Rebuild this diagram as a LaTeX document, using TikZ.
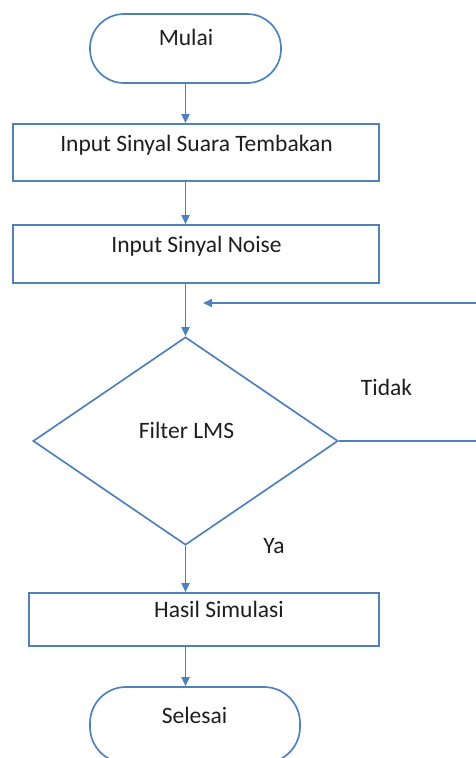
\documentclass[tikz,border=0pt]{standalone}
\usepackage{fontspec}
\setmainfont{Carlito}
\usetikzlibrary{shapes.geometric,arrows.meta}
\definecolor{lineblue}{RGB}{79,129,189}
\definecolor{txtgray}{RGB}{30,30,30}
\begin{document}
\begin{tikzpicture}[x=1pt,y=-1pt,
  shapeline/.style={draw=lineblue,line width=1.7pt},
  termbox/.style={shapeline,rectangle,rounded corners=34pt,inner sep=0pt},
  procbox/.style={shapeline,rectangle,inner sep=0pt},
  decbox/.style={shapeline,diamond,inner sep=0pt},
  lbl/.style={anchor=base,inner sep=0pt,text=txtgray,font=\fontsize{23.5}{28}\selectfont},
  conn/.style={draw=lineblue,line width=1.7pt,-{Triangle[length=9pt,width=8pt]}},
  plain/.style={draw=lineblue,line width=1.7pt}
]
\useasboundingbox (0,0) rectangle (476,758);
% shapes
\node[termbox,minimum width=191pt,minimum height=69pt] (mulai) at (185.5,48.5) {};
\node[procbox,minimum width=366pt,minimum height=57pt] (b1) at (196,152.5) {};
\node[procbox,minimum width=366pt,minimum height=58pt] (b2) at (196,254) {};
\node[decbox,minimum width=305pt,minimum height=208pt] (dia) at (185.5,441) {};
\node[procbox,minimum width=350pt,minimum height=53pt] (b3) at (204,619.5) {};
\node[termbox,minimum width=210pt,minimum height=76pt,rounded corners=36pt] (sel) at (195,725) {};
% labels
\node[lbl] (tmulai) at (186,45) {Mulai};
\node[lbl] (tb1) at (196.5,151) {Input Sinyal Suara Tembakan};
\node[lbl] (tb2) at (196.5,252) {Input Sinyal Noise};
\node[lbl] (tdia) at (186.5,438) {Filter LMS};
\node[lbl] (ttidak) at (386.5,395) {Tidak};
\node[lbl] (tya) at (274,553) {Ya};
\node[lbl] (tb3) at (219,617) {Hasil Simulasi};
\node[lbl] (tsel) at (194.5,723) {Selesai};
% helper coordinates for the loop
\coordinate (loopR) at (484,303);
\coordinate (loopTip) at (203,303);
% connectors
\draw[conn] (mulai.south -| dia.north) -- (dia.north |- b1.north);
\draw[conn] (dia.north |- b1.south) -- (dia.north |- b2.north);
\draw[conn] (dia.north |- b2.south) -- (dia.north);
\draw[conn] (dia.south) -- (dia.south |- b3.north);
\draw[conn] (dia.south |- b3.south) -- (dia.south |- sel.north);
\draw[conn] (dia.east) -- (dia.east -| loopR) -- (loopR) -- (loopTip);
\end{tikzpicture}
\end{document}
